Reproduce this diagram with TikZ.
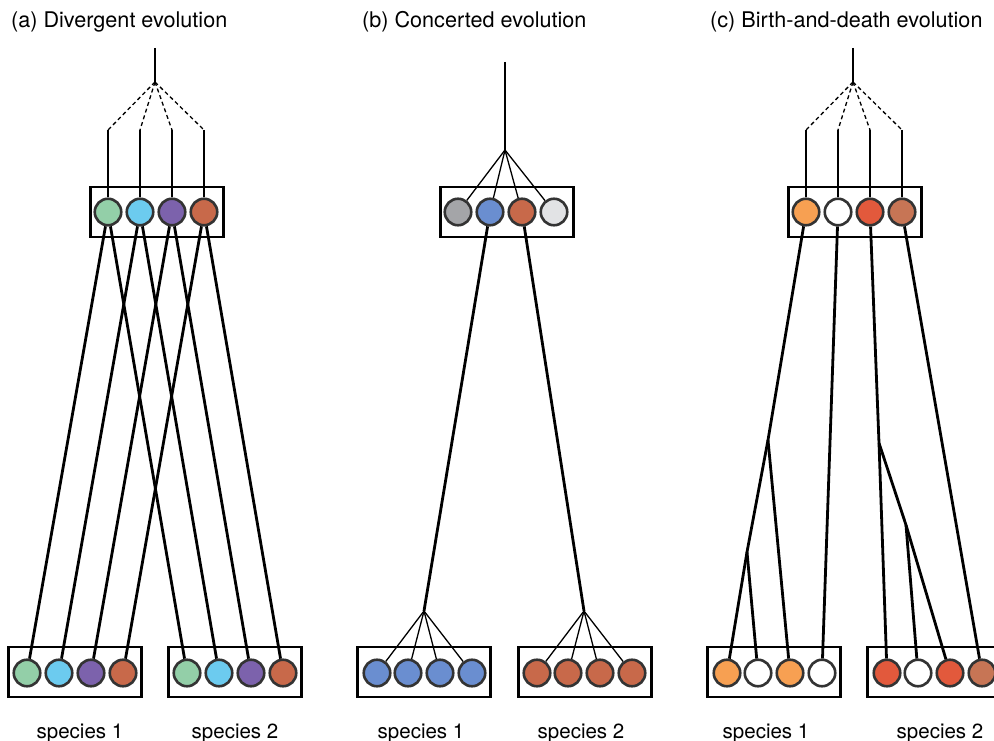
\documentclass[tikz,border=0pt]{standalone}
\usepackage{fontspec}
\setmainfont{TeX Gyre Heros}
\definecolor{gGreen}{HTML}{93CFA8}
\definecolor{gCyan}{HTML}{6CCBEF}
\definecolor{gPurple}{HTML}{7C62AC}
\definecolor{gRust}{HTML}{C8694A}
\definecolor{gGray}{HTML}{A4A5A8}
\definecolor{gBlue}{HTML}{6A8ED0}
\definecolor{gLight}{HTML}{E2E3E5}
\definecolor{gOrange}{HTML}{F7A052}
\definecolor{gRed}{HTML}{E2593C}
\definecolor{gBrown}{HTML}{C77555}
\definecolor{rim}{HTML}{333333}
\tikzset{
  gene/.style={circle, draw=rim, line width=2.6pt, minimum size=26.5pt, inner sep=0pt, fill=#1},
  family/.style={draw, line width=2.2pt, minimum width=133pt, minimum height=50pt, inner sep=0pt},
  fat/.style={line width=2.8pt, line join=round},
  fine/.style={line width=1.3pt},
  lost/.style={line width=1.3pt, dash pattern=on 4pt off 3pt},
  ttl/.style={anchor=base west, inner sep=0pt, font=\fontsize{21.6}{25}\selectfont},
  sp/.style={anchor=base, inner sep=0pt, font=\fontsize{20.5}{24}\selectfont}
}
\begin{document}
\begin{tikzpicture}[x=1pt,y=-1pt]
  \useasboundingbox (0,0) rectangle (994,741);
  % titles
  \node[ttl] (tta) at (11,28) {(a) Divergent evolution};
  \node[ttl] (ttb) at (362,28) {(b) Concerted evolution};
  \node[ttl] (ttc) at (710,28) {(c) Birth-and-death evolution};

  % (a) divergent
  \node[family] (fa) at (157,212) {};
  \node[family] (fa1) at (75,672) {};
  \node[family] (fa2) at (235,672) {};
  \coordinate (pa) at (155,82);
  \draw[fat] (155,48) -- (pa);
  \foreach \x/\c [count=\i] in {108/gGreen,140/gCyan,172/gPurple,204/gRust}{
    \node[gene=\c] (a\i) at (\x,212) {};
    \coordinate (da\i) at (\x,130);
    \draw[lost] (pa) -- (da\i);
    \draw[fat] (da\i) -- (a\i);
  }
  \foreach \x/\c [count=\i] in {27/gGreen,59/gCyan,91/gPurple,123/gRust}
    \node[gene=\c] (aa\i) at (\x,673) {};
  \foreach \x/\c [count=\i] in {187/gGreen,219/gCyan,251/gPurple,283/gRust}
    \node[gene=\c] (ab\i) at (\x,673) {};
  \foreach \i in {1,...,4}{
    \draw[fat] (a\i) -- (aa\i);
    \draw[fat] (a\i) -- (ab\i);
  }
  \node[sp] (la1) at (80,738) {species 1};
  \node[sp] (la2) at (235,738) {species 2};

  % (b) concerted
  \node[family] (fb) at (507,212) {};
  \node[family] (fb1) at (424,672) {};
  \node[family] (fb2) at (585,672) {};
  \coordinate (pb) at (505,150);
  \draw[fat] (505,62) -- (pb);
  \foreach \x/\c [count=\i] in {458/gGray,490/gBlue,522/gRust,554/gLight}{
    \node[gene=\c] (b\i) at (\x,212) {};
    \draw[fine] (pb) -- (b\i);
  }
  \coordinate (qb1) at (424,611);
  \coordinate (qb2) at (584,611);
  \draw[fat] (b2) -- (qb1);
  \draw[fat] (b3) -- (qb2);
  \foreach \x [count=\i] in {377,408,440,472}{
    \node[gene=gBlue] (ba\i) at (\x,673) {};
    \draw[fine] (qb1) -- (ba\i);
  }
  \foreach \x [count=\i] in {537,568,600,632}{
    \node[gene=gRust] (bb\i) at (\x,673) {};
    \draw[fine] (qb2) -- (bb\i);
  }
  \node[sp] (lb1) at (421,738) {species 1};
  \node[sp] (lb2) at (581,738) {species 2};

  % (c) birth-and-death
  \node[family] (fc) at (855,212) {};
  \node[family] (fc1) at (774,672) {};
  \node[family] (fc2) at (934,672) {};
  \coordinate (pc) at (853,82);
  \draw[fat] (853,48) -- (pc);
  \foreach \x/\c [count=\i] in {806/gOrange,838/white,870/gRed,902/gBrown}{
    \node[gene=\c] (c\i) at (\x,212) {};
    \coordinate (dc\i) at (\x,130);
    \draw[lost] (pc) -- (dc\i);
    \draw[fat] (dc\i) -- (c\i);
  }
  \foreach \x/\c [count=\i] in {727/gOrange,758/white,790/gOrange,822/white}
    \node[gene=\c] (ca\i) at (\x,673) {};
  \foreach \x/\c [count=\i] in {887/gRed,918/white,950/gRed,982/gBrown}
    \node[gene=\c] (cb\i) at (\x,673) {};
  \coordinate (qc1) at (768,440);
  \coordinate (qc2) at (747,552);
  \coordinate (qc3) at (879,443);
  \coordinate (qc4) at (906,525);
  \draw[fat] (c1) -- (qc1) -- (qc2) -- (ca1);
  \draw[fat] (qc1) -- (ca3);
  \draw[fat] (qc2) -- (ca2);
  \draw[fat] (c2) -- (ca4);
  \draw[fat] (c3) -- (qc3) -- (cb1);
  \draw[fat] (qc3) -- (qc4) -- (cb3);
  \draw[fat] (qc4) -- (cb2);
  \draw[fat] (c4) -- (cb4);
  \node[sp] (lc1) at (766,738) {species 1};
  \node[sp] (lc2) at (940,738) {species 2};
\end{tikzpicture}
\end{document}
